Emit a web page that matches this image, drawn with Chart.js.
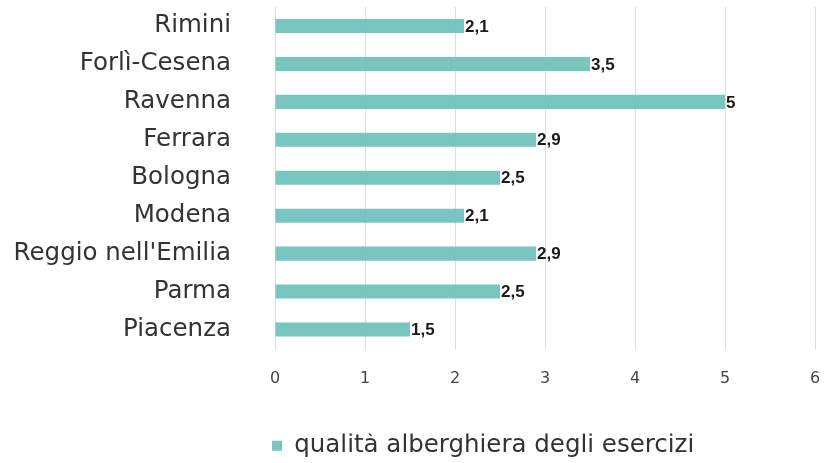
<!DOCTYPE html>
<html lang="it">
<head>
    <meta charset="UTF-8">
    <title>Qualità alberghiera</title>
    <script src="https://cdn.jsdelivr.net/npm/chart.js"></script>
    <style>
        body { margin: 0; background: #ffffff; }
        #wrap { width: 824px; height: 463px; }
    </style>
</head>
<body>
    <div id="wrap"><canvas id="chart"></canvas></div>
    <script>
        const province = ['Rimini', 'Forlì-Cesena', 'Ravenna', 'Ferrara', 'Bologna', 'Modena', "Reggio nell'Emilia", 'Parma', 'Piacenza'];
        const qualita = [2.1, 3.5, 5, 2.9, 2.5, 2.1, 2.9, 2.5, 1.5];
        const serieLabel = 'qualità alberghiera degli esercizi';

        const FONT = '"DejaVu Sans", sans-serif';

        // etichette dei valori a destra delle barre
        const valueLabels = {
            id: 'valueLabels',
            afterDatasetsDraw(chart) {
                const ctx = chart.ctx;
                const meta = chart.getDatasetMeta(0);
                ctx.save();
                ctx.font = 'bold 17px "Liberation Sans", Arial, sans-serif';
                ctx.fillStyle = '#1a1a1a';
                ctx.textBaseline = 'middle';
                meta.data.forEach((bar, i) => {
                    const txt = String(qualita[i]).replace('.', ',');
                    ctx.fillText(txt, bar.x + 1, bar.y + 1);
                });
                ctx.restore();
            }
        };

        // la legenda parte sotto l'inizio dell'asse x, un po' più in basso
        const legendShift = {
            id: 'legendShift',
            beforeDraw(chart) {
                const lg = chart.legend;
                const w = lg.right - lg.left;
                lg.left = chart.chartArea.left - 3 - lg.options.labels.padding;
                lg.right = lg.left + w;
                lg.top += 5;
                lg.bottom += 5;
            }
        };

        new Chart(document.getElementById('chart'), {
            type: 'bar',
            data: {
                labels: province,
                datasets: [{
                    label: serieLabel,
                    data: qualita,
                    backgroundColor: 'rgba(110, 193, 188, 0.92)',
                    borderWidth: 0,
                    categoryPercentage: 1,
                    barPercentage: 0.37
                }]
            },
            options: {
                indexAxis: 'y',
                responsive: true,
                maintainAspectRatio: false,
                animation: false,
                layout: { padding: { top: 7, right: 9, left: 0, bottom: 0 } },
                plugins: {
                    legend: {
                        position: 'bottom',
                        align: 'start',
                        labels: {
                            boxWidth: 10,
                            boxHeight: 10,
                            padding: 0,
                            color: '#333333',
                            font: { family: FONT, size: 24.5, lineHeight: 1 }
                        }
                    },
                    tooltip: { enabled: false }
                },
                scales: {
                    x: {
                        min: 0,
                        max: 6,
                        afterFit(scale) {
                            scale.height = 80;
                            scale.paddingLeft = 0;
                            scale.paddingRight = 0;
                        },
                        ticks: {
                            stepSize: 1,
                            padding: 21,
                            color: '#444444',
                            font: { family: FONT, size: 16 }
                        },
                        grid: { color: '#dddddd', drawTicks: false },
                        border: { display: false }
                    },
                    y: {
                        afterFit(scale) {
                            scale.width = 275;
                            scale.paddingTop = 0;
                            scale.paddingBottom = 0;
                        },
                        ticks: {
                            padding: 44,
                            color: '#333333',
                            font: { family: FONT, size: 24.5 }
                        },
                        grid: { display: false, drawTicks: false },
                        border: { display: false }
                    }
                }
            },
            plugins: [valueLabels, legendShift]
        });
    </script>
</body>
</html>
